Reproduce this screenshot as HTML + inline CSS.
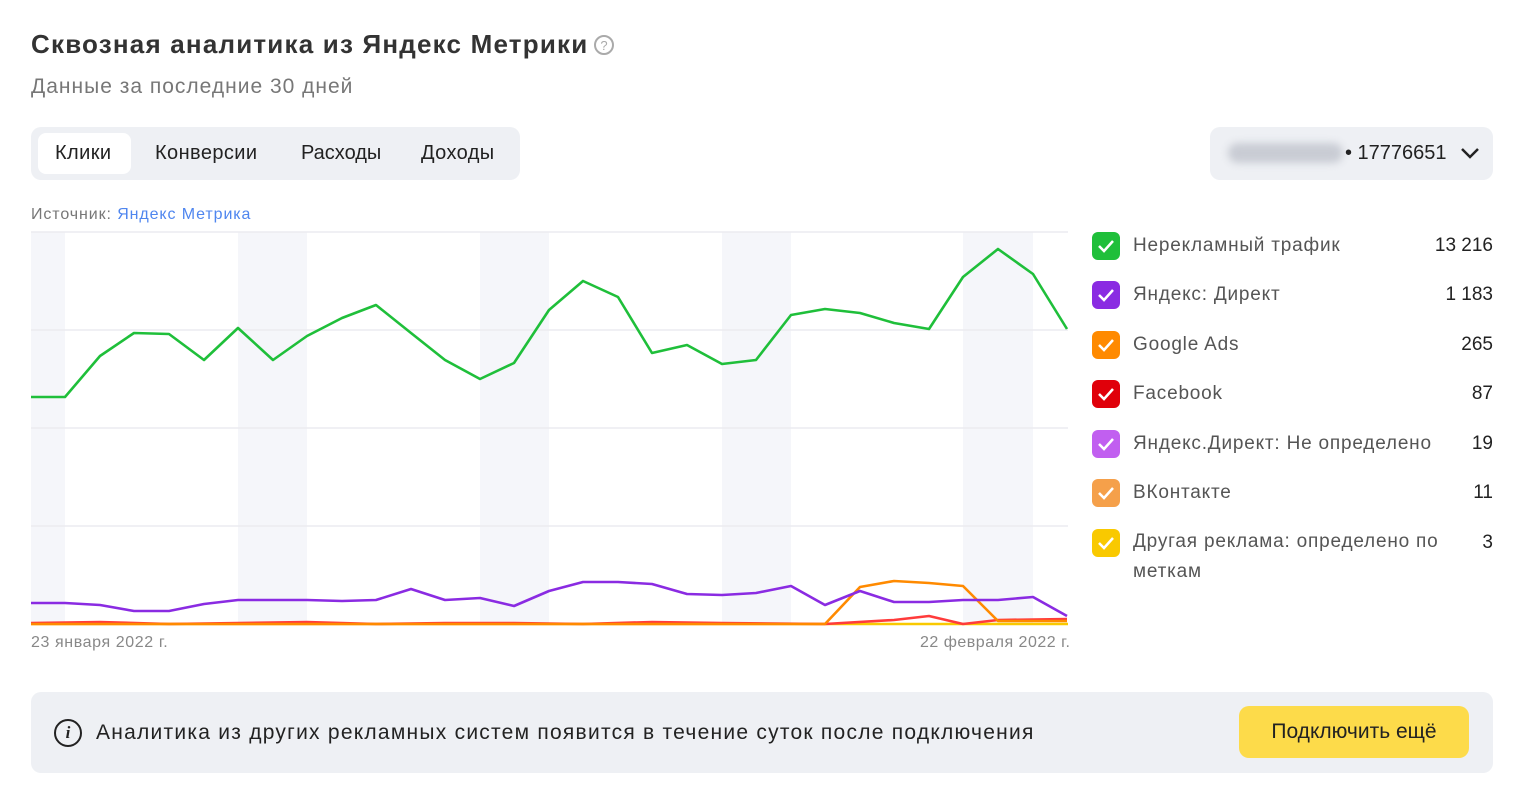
<!DOCTYPE html>
<html><head><meta charset="utf-8"><style>
body{margin:0;width:1517px;height:798px;background:#fff;font-family:"Liberation Sans","Noto Sans CJK SC",sans-serif;color:#222;position:relative;overflow:hidden}
.a{position:absolute;white-space:nowrap}
.cb{position:absolute;left:1092px;width:28px;height:28px;border-radius:6px}
.cb svg{position:absolute;left:5px;top:6px}
.lt{position:absolute;left:1133px;font-size:19px;color:#555;letter-spacing:0.8px}
.lv{position:absolute;right:24px;font-size:19px;color:#222;text-align:right}
</style></head><body>
<div class="a" style="left:31px;top:29px;font-size:26px;font-weight:bold;color:#333;letter-spacing:1.2px">Сквозная аналитика из Яндекс Метрики</div>
<div class="a" style="left:594px;top:35px;width:20px;height:20px;border:2px solid #aaa;border-radius:50%;box-sizing:border-box;font-size:13px;color:#aaa;text-align:center;line-height:17px">?</div>
<div class="a" style="left:31px;top:75px;font-size:21px;color:#777;letter-spacing:1px">Данные за последние 30 дней</div>
<div class="a" style="left:31px;top:127px;width:489px;height:53px;background:#eef0f4;border-radius:10px"></div>
<div class="a" style="left:38px;top:133px;width:93px;height:41px;background:#fff;border-radius:8px"></div>
<div class="a" style="left:55px;top:142px;font-size:20px;letter-spacing:0.4px">Клики</div>
<div class="a" style="left:155px;top:142px;font-size:20px;letter-spacing:0.4px">Конверсии</div>
<div class="a" style="left:301px;top:142px;font-size:20px">Расходы</div>
<div class="a" style="left:421px;top:142px;font-size:20px;letter-spacing:0.4px">Доходы</div>
<div class="a" style="left:1210px;top:127px;width:283px;height:53px;background:#eef0f4;border-radius:10px"></div>
<div class="a" style="left:1228px;top:143px;width:115px;height:20px;background:#c9ccd4;border-radius:10px;filter:blur(4px)"></div>
<div class="a" style="left:1345px;top:142px;font-size:20px">• 17776651</div>
<svg class="a" style="left:1460px;top:146px" width="20" height="14"><path d="M2 3 L10 11 L18 3" stroke="#222" stroke-width="2.5" fill="none"/></svg>
<div class="a" style="left:31px;top:206px;font-size:16px;color:#777;letter-spacing:0.9px">Источник: <span style="color:#4f86ef">Яндекс Метрика</span></div>
<svg class="a" style="left:0;top:0" width="1080" height="660">
<g fill="#f5f6fa"><rect x="31" y="232" width="34" height="392"/><rect x="238" y="232" width="69" height="392"/><rect x="480" y="232" width="69" height="392"/><rect x="722" y="232" width="69" height="392"/><rect x="963" y="232" width="70" height="392"/></g>
<g stroke="#ececf0" stroke-width="1.5"><line x1="31" y1="232" x2="1068" y2="232"/><line x1="31" y1="330" x2="1068" y2="330"/><line x1="31" y1="428" x2="1068" y2="428"/><line x1="31" y1="526" x2="1068" y2="526"/></g>
<g fill="none" stroke-width="2.6" stroke-linejoin="round">
<polyline stroke="#f9c900" points="31,624 1068,624"/>
<polyline stroke="#ff3b3b" points="31,623 100,622 169,624 238,623 307,622 376,624 445,623 514,623 583,624 652,622 722,623 825,624 894,620 929,616 963,624 998,620 1067,619"/>
<polyline stroke="#ff8a00" points="31,624 825,624 860,587 894,581 929,583 963,586 998,621 1067,621"/>
<polyline stroke="#8a2be2" points="31,603 65,603 100,605 134,611 169,611 204,604 238,600 273,600 307,600 342,601 376,600 411,589 445,600 480,598 514,606 549,591 583,582 618,582 652,584 687,594 722,595 756,593 791,586 825,605 860,591 894,602 929,602 963,600 998,600 1033,597 1067,616"/>
<polyline stroke="#1fbf3a" points="31,397 65,397 100,356 134,333 169,334 204,360 238,328 273,360 307,336 342,318 376,305 411,333 445,360 480,379 514,363 549,310 583,281 618,297 652,353 687,345 722,364 756,360 791,315 825,309 860,313 894,323 929,329 963,277 998,249 1033,274 1067,329"/>
</g>
</svg>
<div class="a" style="left:31px;top:634px;font-size:16px;color:#888;letter-spacing:0.6px">23 января 2022 г.</div>
<div class="a" style="left:920px;top:634px;font-size:16px;color:#888;letter-spacing:0.5px">22 февраля 2022 г.</div>

<div class="cb" style="top:232px;background:#1fbf3a"><svg width="18" height="16"><path d="M2 8 L7 13 L16 3" stroke="#fff" stroke-width="2.5" fill="none"/></svg></div>
<div class="lt" style="top:235px">Нерекламный трафик</div><div class="lv" style="top:235px">13 216</div>
<div class="cb" style="top:281px;background:#8a2be2"><svg width="18" height="16"><path d="M2 8 L7 13 L16 3" stroke="#fff" stroke-width="2.5" fill="none"/></svg></div>
<div class="lt" style="top:284px">Яндекс: Директ</div><div class="lv" style="top:284px">1 183</div>
<div class="cb" style="top:331px;background:#ff8a00"><svg width="18" height="16"><path d="M2 8 L7 13 L16 3" stroke="#fff" stroke-width="2.5" fill="none"/></svg></div>
<div class="lt" style="top:334px">Google Ads</div><div class="lv" style="top:334px">265</div>
<div class="cb" style="top:380px;background:#e0000a"><svg width="18" height="16"><path d="M2 8 L7 13 L16 3" stroke="#fff" stroke-width="2.5" fill="none"/></svg></div>
<div class="lt" style="top:383px">Facebook</div><div class="lv" style="top:383px">87</div>
<div class="cb" style="top:430px;background:#c15ff0"><svg width="18" height="16"><path d="M2 8 L7 13 L16 3" stroke="#fff" stroke-width="2.5" fill="none"/></svg></div>
<div class="lt" style="top:433px">Яндекс.Директ: Не определено</div><div class="lv" style="top:433px">19</div>
<div class="cb" style="top:479px;background:#f5a04a"><svg width="18" height="16"><path d="M2 8 L7 13 L16 3" stroke="#fff" stroke-width="2.5" fill="none"/></svg></div>
<div class="lt" style="top:482px">ВКонтакте</div><div class="lv" style="top:482px">11</div>
<div class="cb" style="top:529px;background:#f9c900"><svg width="18" height="16"><path d="M2 8 L7 13 L16 3" stroke="#fff" stroke-width="2.5" fill="none"/></svg></div>
<div class="lt" style="top:527px;line-height:30px;white-space:normal;width:330px">Другая реклама: определено по<br>меткам</div><div class="lv" style="top:532px">3</div>

<div class="a" style="left:31px;top:692px;width:1462px;height:81px;background:#eef0f4;border-radius:10px"></div>
<div class="a" style="left:54px;top:719px;width:28px;height:28px;border:2.5px solid #222;border-radius:50%;box-sizing:border-box;text-align:center;font:italic bold 17px 'Liberation Serif',serif;line-height:23px">i</div>
<div class="a" style="left:96px;top:721px;font-size:21px;color:#222;letter-spacing:1.25px">Аналитика из других рекламных систем появится в течение суток после подключения</div>
<div class="a" style="left:1239px;top:706px;width:230px;height:52px;background:#fddb4a;border-radius:10px;font-size:21px;text-align:center;line-height:52px">Подключить ещё</div>
</body></html>
